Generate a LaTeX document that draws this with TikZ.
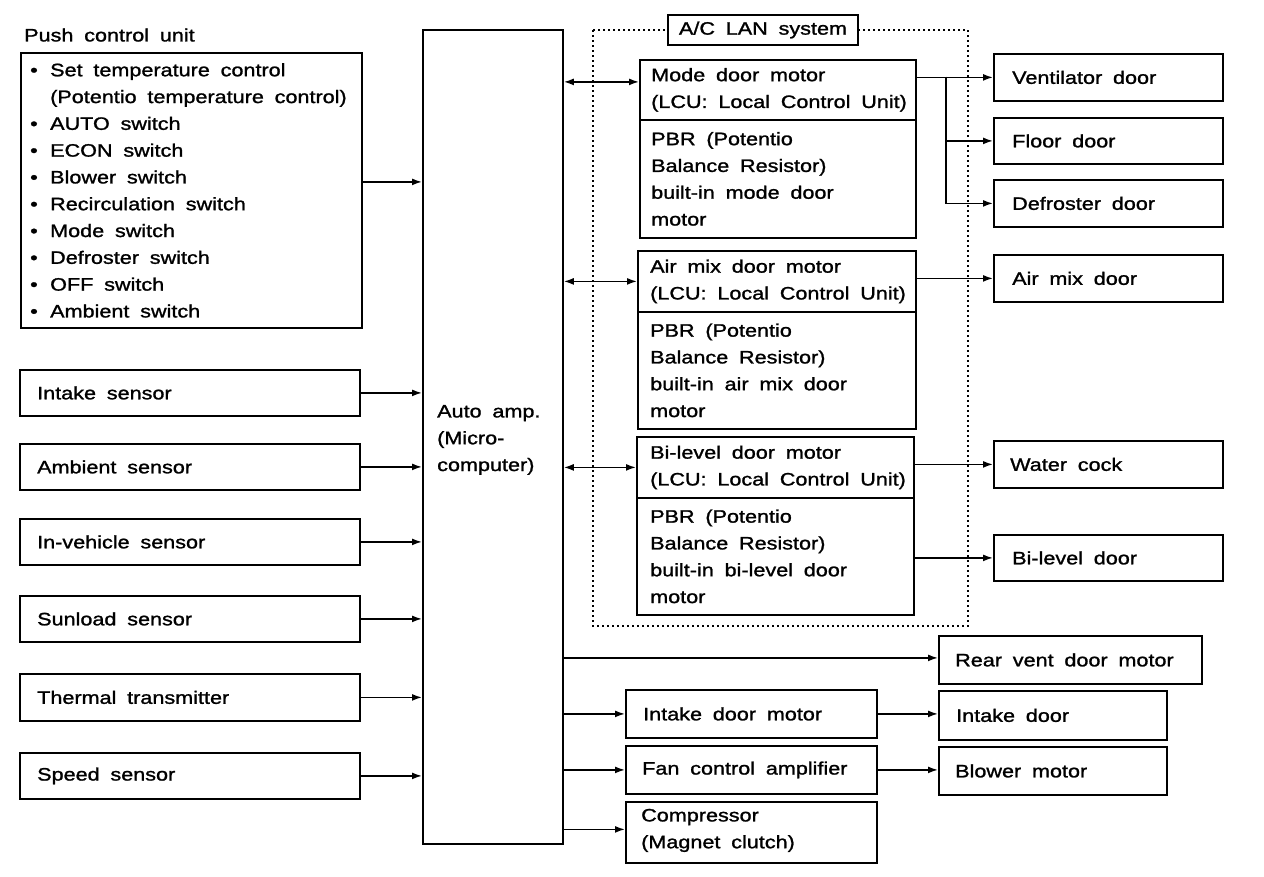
\documentclass[tikz,border=0pt]{standalone}
\usepackage{fontspec}
\setmainfont{Liberation Sans}[FakeStretch=1.2,WordSpace=1.8,FakeBold=1.3]
\usetikzlibrary{arrows.meta}
\newcommand\fsz{\fontsize{18}{26.8}\selectfont}
\newcommand\bul{\makebox[20pt][l]{•}}
\begin{document}
\begin{tikzpicture}[x=1pt,y=-1pt,
  bx/.style={draw, line width=1.8pt, anchor=north west, inner sep=0pt},
  tx/.style={anchor=west, align=left, inner sep=0pt, font=\fsz},
  arr/.style={line width=1.6pt, -{Latex[length=10pt,width=7pt]}},
  darr/.style={line width=1.6pt, {Latex[length=10pt,width=7pt]}-{Latex[length=10pt,width=7pt]}},
  lan/.style={line width=1.5pt, dash pattern=on 2pt off 3pt}]
\useasboundingbox[fill=white] (0,0) rectangle (1264,876);

% Push control unit
\node[tx] (pcu-h) at (24,35) {Push control unit};
\node[bx, minimum width=341pt, minimum height=275pt] (pcu) at (20,52) {};
\node[tx] (pcu-t) at ([xshift=10pt]pcu.west) {\bul Set temperature control\\\hspace*{20pt}(Potentio temperature control)\\\bul AUTO switch\\\bul ECON switch\\\bul Blower switch\\\bul Recirculation switch\\\bul Mode switch\\\bul Defroster switch\\\bul OFF switch\\\bul Ambient switch};

% Auto amp
\node[bx, minimum width=140pt, minimum height=814pt] (aa) at (422,29) {};
\node[tx] (aa-t) at ([xshift=15pt,yshift=-3pt]aa.west) {Auto amp.\\(Micro-\\computer)};

% Sensors
\node[bx, minimum width=340pt, minimum height=46pt] (s1) at (19,369) {};
\node[tx] (s1-t) at ([xshift=18pt]s1.west) {Intake sensor};
\node[bx, minimum width=340pt, minimum height=46pt] (s2) at (19,443) {};
\node[tx] (s2-t) at ([xshift=18pt]s2.west) {Ambient sensor};
\node[bx, minimum width=340pt, minimum height=46pt] (s3) at (19,518) {};
\node[tx] (s3-t) at ([xshift=18pt]s3.west) {In-vehicle sensor};
\node[bx, minimum width=340pt, minimum height=46pt] (s4) at (19,595) {};
\node[tx] (s4-t) at ([xshift=18pt]s4.west) {Sunload sensor};
\node[bx, minimum width=340pt, minimum height=47pt] (s5) at (19,673) {};
\node[tx] (s5-t) at ([xshift=18pt]s5.west) {Thermal transmitter};
\node[bx, minimum width=340pt, minimum height=46pt] (s6) at (19,752) {};
\node[tx] (s6-t) at ([xshift=18pt]s6.west) {Speed sensor};

% A/C LAN system
\draw[lan] (593,30) rectangle (968,626);
\node[draw, fill=white, line width=1.8pt, minimum width=190pt, minimum height=30pt, inner sep=0pt, font=\fsz] (lan) at (763,30) {A/C LAN system};

\node[bx, minimum width=276pt, minimum height=60pt] (m1) at (639,59) {};
\node[tx] (m1-t) at ([xshift=12pt]m1.west) {Mode door motor\\(LCU: Local Control Unit)};
\node[bx, minimum width=276pt, minimum height=118pt] (m2) at (639,119) {};
\node[tx] (m2-t) at ([xshift=12pt]m2.west) {PBR (Potentio\\Balance Resistor)\\built-in mode door\\motor};

\node[bx, minimum width=278pt, minimum height=61pt] (a1) at (637,250) {};
\node[tx] (a1-t) at ([xshift=13pt]a1.west) {Air mix door motor\\(LCU: Local Control Unit)};
\node[bx, minimum width=278pt, minimum height=117pt] (a2) at (637,311) {};
\node[tx] (a2-t) at ([xshift=13pt]a2.west) {PBR (Potentio\\Balance Resistor)\\built-in air mix door\\motor};

\node[bx, minimum width=277pt, minimum height=61pt] (b1) at (636,436) {};
\node[tx] (b1-t) at ([xshift=14pt]b1.west) {Bi-level door motor\\(LCU: Local Control Unit)};
\node[bx, minimum width=277pt, minimum height=117pt] (b2) at (636,497) {};
\node[tx] (b2-t) at ([xshift=14pt]b2.west) {PBR (Potentio\\Balance Resistor)\\built-in bi-level door\\motor};

% Right column
\node[bx, minimum width=229pt, minimum height=47pt] (vent) at (993,53) {};
\node[tx] (vent-t) at ([xshift=19pt]vent.west) {Ventilator door};
\node[bx, minimum width=229pt, minimum height=46pt] (floor) at (993,117) {};
\node[tx] (floor-t) at ([xshift=19pt]floor.west) {Floor door};
\node[bx, minimum width=229pt, minimum height=47pt] (defr) at (993,179) {};
\node[tx] (defr-t) at ([xshift=19pt]defr.west) {Defroster door};
\node[bx, minimum width=229pt, minimum height=47pt] (amd) at (993,254) {};
\node[tx] (amd-t) at ([xshift=19pt]amd.west) {Air mix door};
\node[bx, minimum width=229pt, minimum height=47pt] (wc) at (993,440) {};
\node[tx] (wc-t) at ([xshift=17pt]wc.west) {Water cock};
\node[bx, minimum width=229pt, minimum height=46pt] (bld) at (993,534) {};
\node[tx] (bld-t) at ([xshift=19pt]bld.west) {Bi-level door};

% Bottom
\node[bx, minimum width=263pt, minimum height=48pt] (rv) at (938,635) {};
\node[tx] (rv-t) at ([xshift=17pt]rv.west) {Rear vent door motor};
\node[bx, minimum width=251pt, minimum height=48pt] (idm) at (625,689) {};
\node[tx] (idm-t) at ([xshift=18pt]idm.west) {Intake door motor};
\node[bx, minimum width=228pt, minimum height=49pt] (id) at (938,690) {};
\node[tx] (id-t) at ([xshift=18pt]id.west) {Intake door};
\node[bx, minimum width=251pt, minimum height=48pt] (fca) at (625,745) {};
\node[tx] (fca-t) at ([xshift=17pt]fca.west) {Fan control amplifier};
\node[bx, minimum width=228pt, minimum height=48pt] (bm) at (938,746) {};
\node[tx] (bm-t) at ([xshift=17pt]bm.west) {Blower motor};
\node[bx, minimum width=251pt, minimum height=61pt] (comp) at (625,801) {};
\node[tx] (comp-t) at ([xshift=16pt,yshift=2pt]comp.west) {Compressor\\(Magnet clutch)};

% Connectors
\coordinate (pcuo) at ([yshift=8.5pt]pcu.east);
\draw[arr] (pcuo) -- (pcuo -| aa.west);
\foreach \s in {s1,s2,s3,s4,s5,s6} \draw[arr] (\s.east) -- (\s.east -| aa.west);

\coordinate (m1i) at ([yshift=8pt]m1.west);
\draw[darr] (m1i -| aa.east) -- (m1i);
\draw[darr] (a1.west -| aa.east) -- (a1.west);
\draw[darr] (b1.west -| aa.east) -- (b1.west);

\draw[arr] (vent.west -| m1.east) -- (vent.west);
\coordinate (br) at (946,76.5);
\draw[arr] (br) |- (defr.west);
\draw[arr] (br |- floor.west) -- (floor.west);
\draw[arr] (amd.west -| a1.east) -- (amd.west);
\draw[arr] (wc.west -| b1.east) -- (wc.west);
\draw[arr] (bld.west -| b2.east) -- (bld.west);

\coordinate (rvi) at ([yshift=2pt]rv.west);
\draw[arr] (rvi -| aa.east) -- (rvi);
\draw[arr] (idm.west -| aa.east) -- (idm.west);
\draw[arr] (idm.east) -- (idm.east -| id.west);
\draw[arr] (fca.west -| aa.east) -- (fca.west);
\draw[arr] (fca.east) -- (fca.east -| bm.west);
\coordinate (compi) at ([yshift=3pt]comp.west);
\draw[arr] (compi -| aa.east) -- (compi);
\end{tikzpicture}
\end{document}
